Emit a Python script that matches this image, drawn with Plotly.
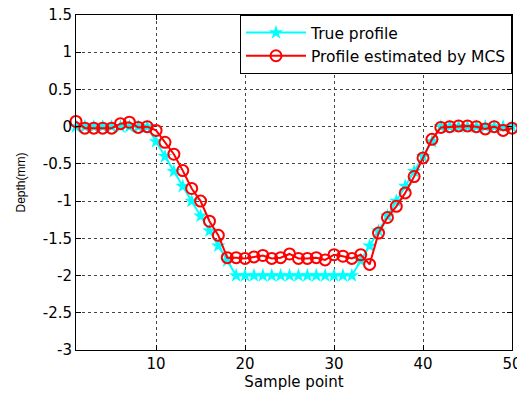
import plotly.graph_objects as go

sample_points = list(range(1, 51))

true_profile = [0.0] * 9 + [-0.2, -0.4, -0.6, -0.8, -1.0, -1.2, -1.4, -1.6, -1.8] + [-2.0] * 14 + \
    [-1.8, -1.6, -1.4, -1.2, -1.0, -0.8, -0.6, -0.4, -0.2] + [0.0] * 9

mcs_profile = [0.07, -0.02, -0.02, -0.02, -0.02, 0.04, 0.06, -0.01, 0.0, -0.05,
               -0.21, -0.37, -0.59, -0.83, -1.0, -1.27, -1.46, -1.76, -1.76, -1.77,
               -1.75, -1.73, -1.77, -1.76, -1.71, -1.77, -1.77, -1.76, -1.79, -1.72,
               -1.74, -1.77, -1.72, -1.85, -1.43, -1.22, -1.07, -0.89, -0.67, -0.42,
               -0.17, -0.01, 0.0, 0.01, 0.01, 0.0, -0.03, 0.0, -0.05, -0.02]

x_ticks = [10, 20, 30, 40, 50]
y_ticks = [-3, -2.5, -2, -1.5, -1, -0.5, 0, 0.5, 1, 1.5]
y_tick_labels = ["-3", "-2.5", "-2", "-1.5", "-1", "-0.5", "0", "0.5", "1", "1.5"]

font = "DejaVu Sans"
narrow = "Liberation Sans"

fig = go.Figure()
fig.add_trace(go.Scatter(
    x=sample_points, y=true_profile, mode="lines+markers", name="True profile",
    line=dict(color="#00FFFF", width=2),
    marker=dict(symbol="star", size=11, color="#00FFFF"),
    cliponaxis=False,
))
fig.add_trace(go.Scatter(
    x=sample_points, y=mcs_profile, mode="lines+markers", name="Profile estimated by MCS",
    line=dict(color="#FF0000", width=2),
    marker=dict(symbol="circle-open", size=11, color="#FF0000", line=dict(width=2)),
    cliponaxis=False,
))

axis_common = dict(
    showline=True, linecolor="black", linewidth=1, mirror="ticks",
    ticks="inside", ticklen=5, tickcolor="black",
    showgrid=True, gridcolor="#444444", griddash="dot", gridwidth=1,
    zeroline=False, ticklabeloverflow="allow", automargin=False,
    tickfont=dict(family=font, size=15, color="black"),
)

fig.update_layout(
    width=517, height=397,
    margin=dict(l=76, r=5, t=15, b=47),
    paper_bgcolor="white", plot_bgcolor="white",
    font=dict(family=font, size=15, color="black"),
    xaxis=dict(range=[1, 50], tickvals=x_ticks,
               title=dict(text="Sample point", font=dict(family=font, size=15), standoff=3),
               **axis_common),
    yaxis=dict(range=[-3, 1.5], tickvals=y_ticks, ticktext=y_tick_labels,
               title=dict(text="Depth(mm)", font=dict(family=narrow, size=12), standoff=14),
               **axis_common),
    legend=dict(x=1, y=1, xanchor="right", yanchor="top",
                bgcolor="white", bordercolor="black", borderwidth=1,
                font=dict(family=font, size=15.5, color="black"),
                itemwidth=60, tracegroupgap=0),
    showlegend=True,
)

fig.write_html("out.html")
